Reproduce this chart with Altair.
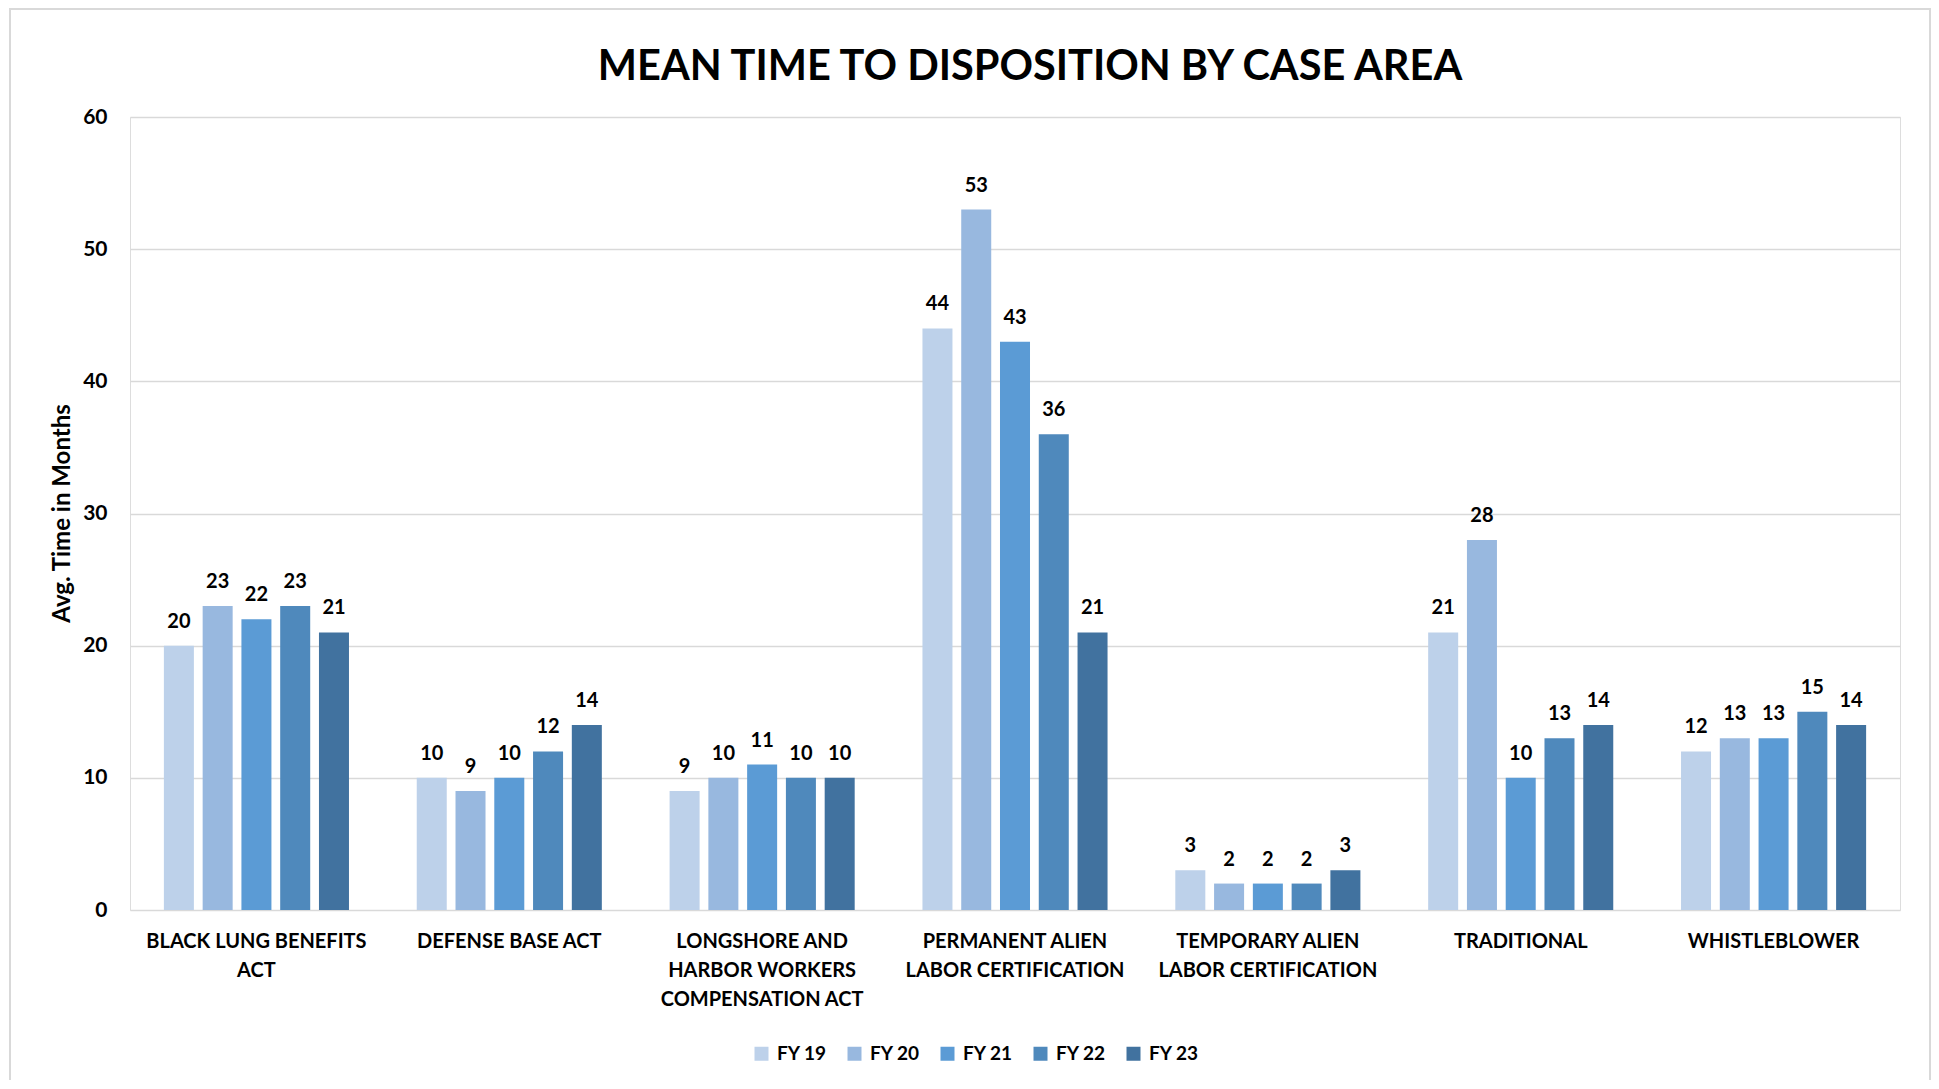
import altair as alt
import pandas as pd

label_lines = [
    ["BLACK LUNG BENEFITS", "ACT"],
    ["DEFENSE BASE ACT"],
    ["LONGSHORE AND", "HARBOR WORKERS", "COMPENSATION ACT"],
    ["PERMANENT ALIEN", "LABOR CERTIFICATION"],
    ["TEMPORARY ALIEN", "LABOR CERTIFICATION"],
    ["TRADITIONAL"],
    ["WHISTLEBLOWER"],
]
categories = ["|".join(l) for l in label_lines]

years = ["FY 19", "FY 20", "FY 21", "FY 22", "FY 23"]
fy19 = [20, 10, 9, 44, 3, 21, 12]
fy20 = [23, 9, 10, 53, 2, 28, 13]
fy21 = [22, 10, 11, 43, 2, 10, 13]
fy22 = [23, 12, 10, 36, 2, 13, 15]
fy23 = [21, 14, 10, 21, 3, 14, 14]
colors = ["#BDD1EA", "#98B8DF", "#5B9BD5", "#4F89BC", "#41729F"]

rows = []
for yr, vals in zip(years, [fy19, fy20, fy21, fy22, fy23]):
    for c, v in zip(categories, vals):
        rows.append({"category": c, "year": yr, "value": v})
df = pd.DataFrame(rows)

FONT = "Lato"

x = alt.X("category:N", sort=categories, title=None,
          scale=alt.Scale(paddingInner=0.268, paddingOuter=0.134),
          axis=alt.Axis(labelExpr="split(datum.label, '|')", labelAngle=0,
                        labelFont=FONT, labelFontWeight="bold", labelFontSize=20,
                        labelColor="#000000", labelLineHeight=29, labelBaseline="top",
                        labelPadding=21, ticks=False, tickSize=0, domain=False,
                        grid=False, labelLimit=400))
xo = alt.XOffset("year:N", sort=years, scale=alt.Scale(paddingInner=0.226, paddingOuter=0))
y = alt.Y("value:Q", scale=alt.Scale(domain=[0, 60]),
          axis=alt.Axis(values=[0, 10, 20, 30, 40, 50, 60], title="Avg. Time in Months",
                        labelFont=FONT, labelFontWeight="bold", labelFontSize=21,
                        labelColor="#000000", labelPadding=23, ticks=False, tickSize=0,
                        domain=False, grid=True, gridColor="#D9D9D9", gridWidth=1.5,
                        titleFont=FONT, titleFontWeight="bold", titleFontSize=24,
                        titleColor="#000000", titleAngle=-90, titleX=-61, titleY=396,
                        titleBaseline="alphabetic", titleAlign="center"))

bars = alt.Chart(df).mark_bar().encode(
    x=x, xOffset=xo, y=y,
    color=alt.Color("year:N", sort=years,
                    scale=alt.Scale(domain=years, range=colors),
                    legend=alt.Legend(title=None, orient="none", direction="horizontal",
                                      legendX=622, legendY=927, padding=0,
                                      symbolType="square", symbolSize=196,
                                      symbolStrokeWidth=0, labelOffset=6,
                                      columnPadding=18, labelFont=FONT,
                                      labelFontWeight="bold", labelFontSize=19,
                                      labelColor="#000000")),
)

labels = alt.Chart(df).mark_text(font=FONT, fontWeight="bold", fontSize=20,
                                 color="#000000", baseline="alphabetic", dy=-18).encode(
    x=alt.X("category:N", sort=categories), xOffset=alt.XOffset("year:N", sort=years),
    y=alt.Y("value:Q"), text=alt.Text("value:Q"),
)

frame = alt.Chart(pd.DataFrame({"f": [0]})).mark_rect(
    fill=None, stroke="#D9D9D9", strokeWidth=2, clip=False).encode(
    x=alt.value(-120), x2=alt.value(1800), y=alt.value(-108), y2=alt.value(990))

chart = alt.layer(frame, bars, labels).properties(
    width=1770, height=793,
    autosize=alt.AutoSizeParams(type="none"),
    padding={"left": 122, "top": 109, "right": 31, "bottom": 170},
    title=alt.Title("MEAN TIME TO DISPOSITION BY CASE AREA", font=FONT, fontSize=41.5,
                    fontWeight="bold", color="#000000", anchor="middle", frame="group",
                    baseline="alphabetic", dx=15, dy=113, offset=0),
).configure_view(stroke=None).configure(background="#FFFFFF")

chart.save("out.html", embed_options={"renderer": "svg", "actions": False})
